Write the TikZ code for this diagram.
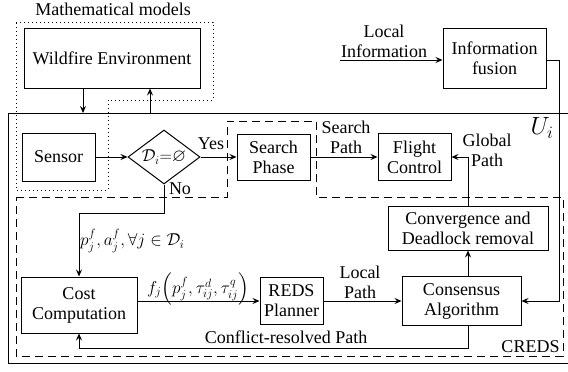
\documentclass[tikz,border=0pt]{standalone}
\usepackage{amsmath,amssymb}
\usepackage{fontspec}
\setmainfont{Liberation Serif}
\usetikzlibrary{arrows.meta,shapes.geometric}
\begin{document}
\begin{tikzpicture}[x=1pt,y=-1pt,
  every node/.style={font=\rmfamily\fontsize{18}{20}\selectfont},
  box/.style={draw,line width=1pt,align=center,inner sep=1pt},
  lbl/.style={align=center,inner sep=0pt},
  arr/.style={line width=1pt,-{Stealth[length=7pt,width=6pt,inset=2.5pt]}},
  ln/.style={line width=1pt},
  dotline/.style={line width=1pt,dash pattern=on 1pt off 3pt},
  dashline/.style={line width=1pt,dash pattern=on 8pt off 5pt}]
\useasboundingbox (0,0) rectangle (568,372);
% regions
\draw[dotline] (16,22) -- (213,22) -- (213,100) -- (108,100) -- (108,190) -- (16,190) -- cycle;
\draw[ln] (569,113) -- (8,113) -- (8,363) -- (569,363);
\draw[dashline] (16,197) -- (227,197) -- (227,121) -- (316,121) -- (316,197) -- (563,197) -- (563,356) -- (16,356) -- cycle;
% nodes
\node[lbl] (mm) at (113,9) {Mathematical models};
\node[box,minimum width=176pt,minimum height=60pt] (wild) at (112,58) {Wildfire Environment};
\node[box,minimum width=103pt,minimum height=60pt] (info) at (494.5,58) {Information\\fusion};
\node[box,minimum width=73pt,minimum height=48pt] (sensor) at (58.5,157) {Sensor};
\node[draw,diamond,line width=1pt,minimum width=72pt,minimum height=54pt,aspect=1.33,inner sep=0pt] (dia) at (164,157) {$\mathcal{D}_i{=}\varnothing$};
\node[box,minimum width=73pt,minimum height=46pt] (search) at (273.5,157) {Search\\Phase};
\node[box,minimum width=73pt,minimum height=47pt] (flight) at (414.5,157) {Flight\\Control};
\node[box,minimum width=160pt,minimum height=44pt] (conv) at (468,228) {Convergence and\\Deadlock removal};
\node[box,minimum width=116pt,minimum height=56pt] (cost) at (79,305) {Cost\\Computation};
\node[box,minimum width=63pt,minimum height=47pt] (reds) at (291.5,301) {REDS\\Planner};
\node[box,minimum width=119pt,minimum height=49pt] (cons) at (461.5,301) {Consensus\\Algorithm};
% labels
\node[lbl] (litxt) at (384,41) {Local\\Information};
\node[lbl] (yes) at (211,144) {Yes};
\node[lbl] (no) at (180,189) {No};
\node[lbl] (sp) at (346,137) {Search\\Path};
\node[lbl] (gp) at (487,150) {Global\\Path};
\node[lbl] (lp) at (360,282) {Local\\Path};
\node[lbl] (crp) at (286,337) {Conflict-resolved Path};
\node[lbl,anchor=west] (pa) at (80,241) {$p_j^f,a_j^f,\forall j\in\mathcal{D}_i$};
\node[lbl] (fj) at (198,289) {$f_j\Bigl(p_j^f,\tau_{ij}^d,\tau_{ij}^q\Bigr)$};
\node[lbl] (creds) at (530.5,347) {CREDS};
\node[lbl,font=\fontsize{26}{28}\selectfont] (ui) at (542,128) {$U_i$};
% connectors
\coordinate (wd) at (83,113);
\coordinate (wu) at (150,113);
\coordinate (li) at (340,60);
\coordinate (cr) at (468,348);
\draw[arr] (wild.south -| wd) -- (wd);
\draw[arr] (wu) -- (wu |- wild.south);
\draw[arr] (li) -- (li -| info.west);
\draw[arr] (info.east |- li) -- ++(13,0) |- (cons.east);
\draw[arr] (sensor) -- (dia);
\draw[arr] (dia) -- (search);
\draw[arr] (search) -- (flight);
\draw[arr] (dia.south) -- ++(0,29) -| (cost.north);
\draw[arr] (cost.east |- reds.west) -- (reds.west);
\draw[arr] (reds) -- (cons);
\draw[arr] (cons.north -| conv.south) -- (conv.south);
\draw[arr] (conv.north) |- (flight.east);
\draw[arr] (cons.south -| cr) -- (cr) -| (cost.south);
\end{tikzpicture}
\end{document}
